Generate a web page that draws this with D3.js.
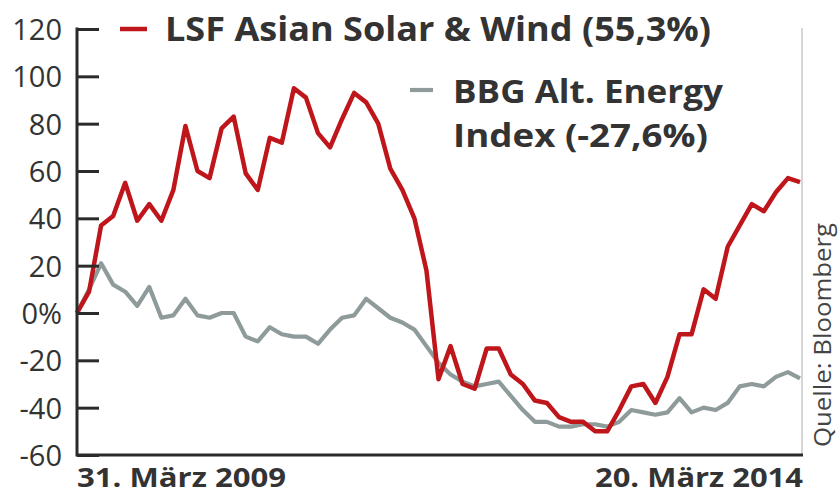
<!DOCTYPE html>
<html>
<head>
<meta charset="utf-8">
<script src="https://cdn.jsdelivr.net/npm/d3@7/dist/d3.min.js"></script>
<style>
  html, body { margin: 0; padding: 0; background: #fff; }
  svg { display: block; }
  text { font-family: "Open Sans", sans-serif; fill: #333; }
</style>
</head>
<body>
<svg id="chart" width="840" height="495"></svg>
<script>
// ---- data (monthly, 31. März 2009 .. 20. März 2014), performance in % ----
const lsfValues = [0, 9, 37, 41, 55, 39, 46, 39, 52, 79, 60, 57, 78, 83, 59, 52, 74, 72, 95, 91,
  76, 70, 82, 93, 89, 80, 61, 52, 40, 18, -28, -14, -30, -32, -15, -15, -26, -30, -37, -38,
  -44, -46, -46, -50, -50, -41, -31, -30, -38, -27, -9, -9, 10, 6, 28, 37, 46, 43, 51, 57, 55.3];
const bbgValues = [0, 10, 21, 12, 9, 3, 11, -2, -1, 6, -1, -2, 0, 0, -10, -12, -6, -9, -10, -10,
  -13, -7, -2, -1, 6, 2, -2, -4, -7, -14, -21, -26, -29, -31, -30, -29, -35, -41, -46, -46,
  -48, -48, -47, -47, -48, -46, -41, -42, -43, -42, -36, -42, -40, -41, -38, -31, -30, -31, -27, -25, -27.6];
const seriesNames = ["LSF Asian Solar & Wind (55,3%)", "BBG Alt. Energy", "Index (-27,6%)"];
const yTicks = [-60, -40, -20, 0, 20, 40, 60, 80, 100, 120];
const xLabels = ["31. März 2009", "20. März 2014"];
const sourceText = "Quelle: Bloomberg";

(function () {
const svg = d3.select("#chart");
const mLeft = 77, mRight = 800, mTop = 29, mBottom = 455;

const x = d3.scaleLinear().domain([0, lsfValues.length - 1]).range([mLeft, mRight]);
const y = d3.scaleLinear().domain([-60, 120]).range([mBottom, mTop]);

// right thin frame line
svg.append("line")
  .attr("x1", 802).attr("x2", 802).attr("y1", 28).attr("y2", mBottom)
  .attr("stroke", "#c8c8c8").attr("stroke-width", 1.5);

// lines
const line = d3.line().x((d, i) => x(i)).y(d => y(d)).curve(d3.curveLinear);
svg.append("path").datum(bbgValues)
  .attr("d", line).attr("fill", "none")
  .attr("stroke", "#8e9b9a").attr("stroke-width", 4.2).attr("stroke-linejoin", "round");
svg.append("path").datum(lsfValues)
  .attr("d", line).attr("fill", "none")
  .attr("stroke", "#bf161c").attr("stroke-width", 4.5).attr("stroke-linejoin", "round");

// y axis
const yAxis = d3.axisRight(y).tickValues(yTicks).tickSize(22)
  .tickFormat(d => d === 0 ? "0%" : d);
const gy = svg.append("g").attr("transform", `translate(${mLeft},0)`).call(yAxis);
gy.select(".domain").remove();
gy.selectAll(".tick line").attr("stroke", "#2b2b2b").attr("stroke-width", 3);
gy.selectAll(".tick text")
  .attr("x", -15).attr("text-anchor", "end").attr("dy", "0.36em")
  .style("font-size", "29px").style("fill", "#333");
svg.append("line")
  .attr("x1", mLeft).attr("x2", mLeft).attr("y1", mTop - 1.5).attr("y2", mBottom + 1.5)
  .attr("stroke", "#2b2b2b").attr("stroke-width", 3);

// x axis baseline
const xAxis = d3.axisBottom(x).tickValues([]).tickSize(0);
const gx = svg.append("g").attr("transform", `translate(0,${mBottom})`).call(xAxis);
gx.select(".domain").attr("stroke", "#2b2b2b").attr("stroke-width", 3)
  .attr("d", `M${mLeft},0H803`);

svg.append("text").attr("x", mLeft).attr("y", 487)
  .attr("textLength", 209).attr("lengthAdjust", "spacingAndGlyphs")
  .style("font-size", "27px").style("font-weight", "bold").text(xLabels[0]);
svg.append("text").attr("x", 595).attr("y", 487)
  .attr("textLength", 208).attr("lengthAdjust", "spacingAndGlyphs")
  .style("font-size", "27px").style("font-weight", "bold").text(xLabels[1]);

// legend
svg.append("line").attr("x1", 120).attr("x2", 147).attr("y1", 29).attr("y2", 29)
  .attr("stroke", "#bf161c").attr("stroke-width", 4.5);
svg.append("text").attr("x", 165).attr("y", 41)
  .attr("textLength", 546).attr("lengthAdjust", "spacingAndGlyphs")
  .style("font-size", "34px").style("font-weight", "bold").text(seriesNames[0]);
svg.append("line").attr("x1", 410).attr("x2", 433).attr("y1", 90).attr("y2", 90)
  .attr("stroke", "#8e9b9a").attr("stroke-width", 4.2);
svg.append("text").attr("x", 453).attr("y", 103)
  .attr("textLength", 270).attr("lengthAdjust", "spacingAndGlyphs")
  .style("font-size", "33px").style("font-weight", "bold").text(seriesNames[1]);
svg.append("text").attr("x", 453).attr("y", 147)
  .attr("textLength", 255).attr("lengthAdjust", "spacingAndGlyphs")
  .style("font-size", "33px").style("font-weight", "bold").text(seriesNames[2]);

// source
svg.append("text")
  .attr("transform", "translate(831,447) rotate(-90)")
  .attr("textLength", 224).attr("lengthAdjust", "spacingAndGlyphs")
  .style("font-size", "23px").style("fill", "#444")
  .text(sourceText);
})();
</script>
</body>
</html>
